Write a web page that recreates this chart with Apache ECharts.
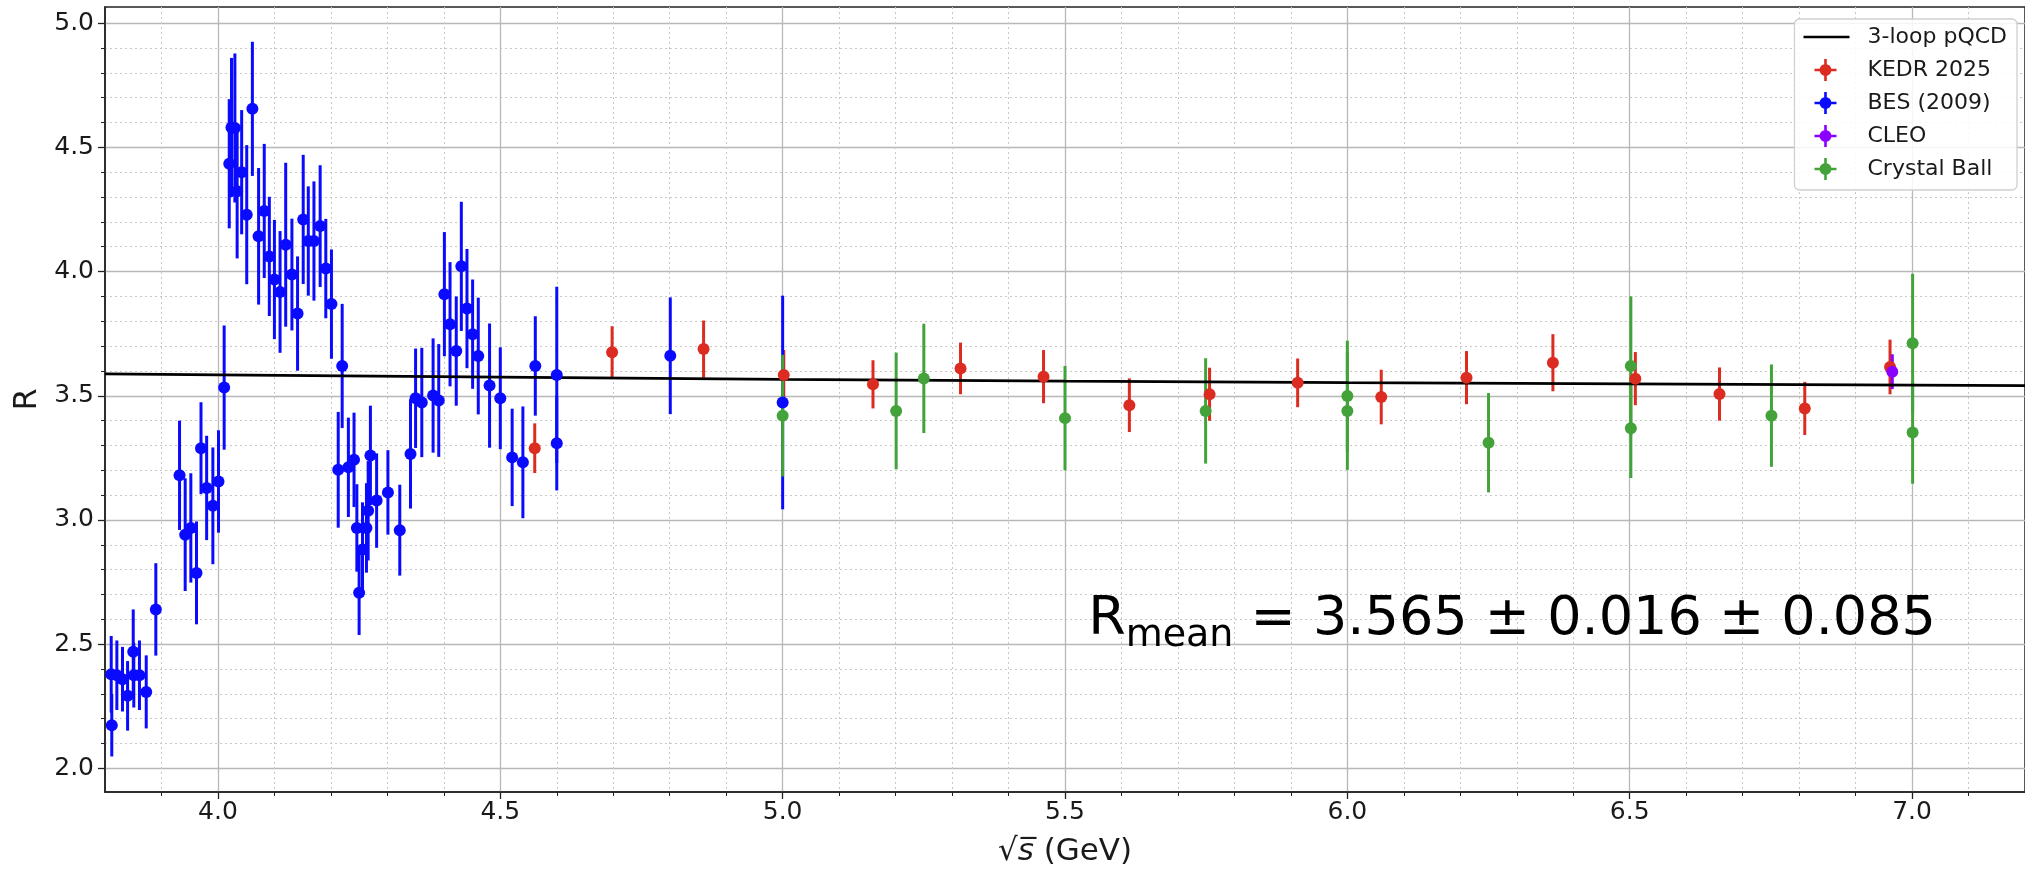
<!DOCTYPE html>
<html><head><meta charset="utf-8">
<script src="https://cdn.jsdelivr.net/npm/echarts@6/dist/echarts.min.js"></script>
<style>html,body{margin:0;padding:0;background:#fff}#c{width:2025px;height:872px}</style>
</head><body><div id="c"></div>
<script>
// ---- data ----
const pqcdX = [3.8, 4.0, 4.5, 5.0, 5.5, 6.0, 6.5, 7.0, 7.2];
const pqcdR = [3.588, 3.584, 3.575, 3.566, 3.559, 3.553, 3.548, 3.543, 3.541];

const kedrX = [4.561, 4.698, 4.860, 5.002, 5.160, 5.315, 5.462, 5.614, 5.756, 5.912, 6.060, 6.211, 6.364, 6.510, 6.659, 6.810, 6.961];
const kedrR = [3.289, 3.675, 3.688, 3.584, 3.546, 3.610, 3.577, 3.462, 3.506, 3.552, 3.495, 3.573, 3.633, 3.569, 3.507, 3.449, 3.616];
const kedrErr = [0.10, 0.105, 0.115, 0.10, 0.097, 0.104, 0.107, 0.108, 0.107, 0.098, 0.11, 0.107, 0.115, 0.107, 0.107, 0.107, 0.11];

const besX = [3.811,3.812,3.821,3.831,3.840,3.850,3.851,3.861,3.873,3.890,3.932,3.942,3.952,3.962,3.970,3.980,3.991,4.001,4.011,4.020,4.024,4.030,4.034,4.042,4.051,4.061,4.072,4.082,4.091,4.100,4.110,4.120,4.131,4.141,4.151,4.160,4.170,4.181,4.191,4.201,4.213,4.220,4.231,4.241,4.246,4.250,4.256,4.263,4.266,4.270,4.281,4.301,4.322,4.341,4.350,4.361,4.381,4.391,4.401,4.411,4.422,4.431,4.441,4.451,4.461,4.481,4.500,4.521,4.540,4.562,4.600,4.600,4.801,5.000];
const besR = [2.379,2.174,2.375,2.359,2.292,2.470,2.375,2.375,2.308,2.640,3.180,2.941,2.968,2.787,3.289,3.129,3.057,3.155,3.533,4.434,4.580,4.578,4.323,4.400,4.229,4.655,4.142,4.244,4.061,3.968,3.918,4.108,3.988,3.831,4.210,4.123,4.123,4.183,4.012,3.869,3.202,3.620,3.212,3.242,2.968,2.707,2.881,2.968,3.037,3.260,3.078,3.111,2.959,3.266,3.490,3.473,3.501,3.481,3.909,3.788,3.680,4.021,3.851,3.748,3.660,3.541,3.490,3.252,3.232,3.620,3.584,3.309,3.661,3.473];
const besErr = [0.154,0.126,0.14,0.13,0.14,0.17,0.13,0.14,0.147,0.186,0.22,0.227,0.22,0.207,0.185,0.21,0.235,0.206,0.25,0.26,0.28,0.30,0.27,0.25,0.28,0.27,0.275,0.27,0.24,0.24,0.245,0.33,0.225,0.23,0.26,0.22,0.24,0.245,0.2,0.22,0.233,0.25,0.2,0.19,0.176,0.17,0.19,0.18,0.2,0.2,0.19,0.17,0.183,0.22,0.20,0.22,0.23,0.227,0.25,0.25,0.22,0.26,0.24,0.22,0.235,0.25,0.205,0.196,0.225,0.2,0.355,0.19,0.235,0.43];

const cleoX = [6.965];
const cleoR = [3.597];
const cleoErr = [0.07];

const cbX = [5.000, 5.201, 5.250, 5.500, 5.749, 6.000, 6.000, 6.250, 6.502, 6.502, 6.751, 7.001, 7.001];
const cbR = [3.420, 3.439, 3.570, 3.410, 3.439, 3.499, 3.439, 3.311, 3.620, 3.369, 3.420, 3.711, 3.352];
const cbErr = [0.245, 0.235, 0.22, 0.21, 0.212, 0.223, 0.237, 0.20, 0.28, 0.20, 0.206, 0.28, 0.206];

const xTicks = [4.0, 4.5, 5.0, 5.5, 6.0, 6.5, 7.0];
const yTicks = [2.0, 2.5, 3.0, 3.5, 4.0, 4.5, 5.0];

const annText = ['R', 'mean', ' = 3.565 ± 0.016 ± 0.085'];
const annPos = [5.541, 2.546];

// ---- styling ----
const FONT = 'DejaVu Sans';
const colors = { kedr: '#dc2b20', bes: '#0a0aff', cleo: '#8c00ff', cb: '#43a33a' };

function pts(xs, ys) { return xs.map((x, i) => [x, ys[i]]); }
function errs(xs, ys, es) { return xs.map((x, i) => [x, ys[i] - es[i], ys[i] + es[i]]); }

function errSeries(name, xs, ys, es, color) {
  return {
    name: name + ' err', type: 'custom', z: 2, clip: true, silent: true,
    encode: { x: 0, y: [1, 2] },
    data: errs(xs, ys, es),
    renderItem: function (params, api) {
      const a = api.coord([api.value(0), api.value(1)]);
      const b = api.coord([api.value(0), api.value(2)]);
      return { type: 'line', shape: { x1: a[0], y1: a[1], x2: b[0], y2: b[1] },
               style: { stroke: color, lineWidth: 3 } };
    }
  };
}
function ptSeries(name, xs, ys, color) {
  return { name: name, type: 'scatter', z: 4, symbol: 'circle', symbolSize: 12,
           itemStyle: { color: color, opacity: 1 }, data: pts(xs, ys), silent: true };
}

const crossIcon = 'path://M0,0M20.7,0h2.6v22h-2.6zM11,9.7h22v2.6h-22zM16,11a6,6 0 1,1 12,0a6,6 0 1,1 -12,0zM59,22';
const lineIcon = 'path://M0,0M0,9.7h46v2.6h-46zM59,22';

const axisCommon = {
  type: 'value',
  minInterval: 0.5, maxInterval: 0.5,
  axisLine: { show: true, lineStyle: { color: '#222', width: 1.5 } },
  axisTick: { show: true, inside: false, length: 7, lineStyle: { color: '#222', width: 1.3 } },
  minorTick: { show: true, splitNumber: 5, length: 4, lineStyle: { color: '#222', width: 1 } },
  splitLine: { show: true, lineStyle: { color: '#b8b8b8', width: 1.3, type: 'solid' } },
  minorSplitLine: { show: true, lineStyle: { color: '#c8c8c8', width: 1, type: [2, 3] } },
  nameTextStyle: { fontFamily: FONT, fontSize: 32, color: '#1a1a1a' }
};

const chart = echarts.init(document.getElementById('c'), null, { renderer: 'canvas' });
const option = {
  backgroundColor: '#fff',
  animation: false,
  grid: { left: 105, right: -2, top: 7, bottom: 76, show: true, borderColor: '#222', borderWidth: 1.5, backgroundColor: 'transparent' },
  xAxis: Object.assign({}, axisCommon, {
    min: 3.8, max: 7.2,
    axisTick: Object.assign({}, axisCommon.axisTick, { customValues: xTicks }),
    axisLabel: { customValues: xTicks, margin: 8, fontFamily: FONT, fontSize: 25, color: '#1a1a1a',
                 formatter: v => v.toFixed(1) },
    name: '√{i|s̅} (GeV)', nameLocation: 'middle', nameGap: 44,
    nameTextStyle: { fontFamily: FONT, fontSize: 31, color: '#1a1a1a',
                     rich: { i: { fontFamily: FONT, fontSize: 31, fontStyle: 'italic', color: '#1a1a1a' } } }
  }),
  yAxis: Object.assign({}, axisCommon, {
    min: 1.905, max: 5.065,
    axisTick: Object.assign({}, axisCommon.axisTick, { customValues: yTicks }),
    axisLabel: { customValues: yTicks, margin: 11, fontFamily: FONT, fontSize: 25, color: '#1a1a1a',
                 formatter: v => v.toFixed(1) },
    name: 'R', nameLocation: 'middle', nameGap: 61, nameRotate: 90
  }),
  legend: {
    right: 8, top: 19, orient: 'vertical', align: 'left',
    itemWidth: 59, itemHeight: 22, itemGap: 11,
    padding: [7, 10, 10, 9],
    backgroundColor: 'rgba(255,255,255,0.85)', borderColor: '#d0d0d0', borderWidth: 1.3, borderRadius: 5,
    textStyle: { fontFamily: FONT, fontSize: 22, lineHeight: 22, color: '#1a1a1a' },
    selectedMode: false,
    data: [
      { name: '3-loop pQCD', icon: lineIcon },
      { name: 'KEDR 2025', icon: crossIcon },
      { name: 'BES (2009)', icon: crossIcon },
      { name: 'CLEO', icon: crossIcon },
      { name: 'Crystal Ball', icon: crossIcon }
    ]
  },
  series: [
    errSeries('KEDR 2025', kedrX, kedrR, kedrErr, colors.kedr),
    errSeries('BES (2009)', besX, besR, besErr, colors.bes),
    errSeries('CLEO', cleoX, cleoR, cleoErr, colors.cleo),
    errSeries('Crystal Ball', cbX, cbR, cbErr, colors.cb),
    { name: '3-loop pQCD', type: 'line', z: 3, showSymbol: false, symbol: 'none', silent: true,
      lineStyle: { color: '#000', width: 2.6 }, itemStyle: { color: '#000' }, data: pts(pqcdX, pqcdR) },
    ptSeries('KEDR 2025', kedrX, kedrR, colors.kedr),
    ptSeries('BES (2009)', besX, besR, colors.bes),
    ptSeries('CLEO', cleoX, cleoR, colors.cleo),
    ptSeries('Crystal Ball', cbX, cbR, colors.cb)
  ]
};
chart.setOption(option);

const p = chart.convertToPixel({ gridIndex: 0 }, annPos);
chart.setOption({
  graphic: [{
    type: 'text', x: p[0], y: p[1] - 40, z: 10,
    style: {
      text: '{r|' + annText[0] + '}{s|' + annText[1] + '}{r|' + annText[2] + '}',
      verticalAlign: 'top', align: 'left',
      rich: {
        r: { fontFamily: FONT, fontSize: 54, lineHeight: 62, verticalAlign: 'top', fill: '#000' },
        s: { fontFamily: FONT, fontSize: 38, lineHeight: 30, verticalAlign: 'bottom', fill: '#000' }
      }
    }
  }]
});
</script>
</body></html>
